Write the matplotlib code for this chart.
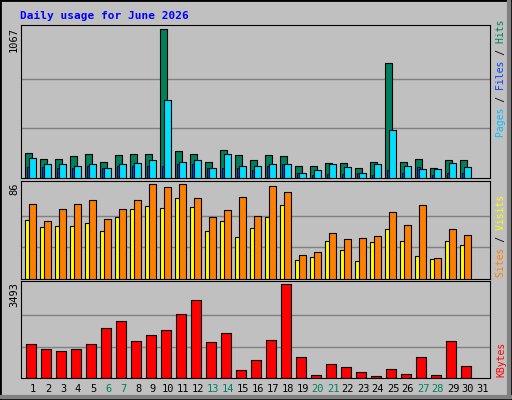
import matplotlib
matplotlib.use("Agg")
import matplotlib.pyplot as plt
import numpy as np

days = list(range(1, 32))
weekend = [6, 7, 13, 14, 20, 21, 27, 28]
hits = [183,140,133,155,169,118,162,169,169,1067,191,169,118,198,162,126,162,155,89,89,111,111,75,118,828,118,133,75,126,126]
files = [147,104,97,89,104,75,104,111,126,560,118,126,75,169,89,89,97,97,39,60,97,82,39,97,343,89,68,68,111,82]
pages = [77,77,70,70,89,75,89,89,89,89,104,104,70,75,70,60,89,104,39,25,32,32,39,25,60,39,82,18,39,39]
visits = [68,52,63,68,71,54,63,71,86,83,86,73,56,62,74,57,84,79,22,24,42,36,37,39,61,49,67,19,45,40]
sites = [53,47,48,48,51,43,56,63,66,64,73,65,43,52,38,46,56,67,17,20,34,26,16,33,45,34,21,18,34,31]
kbytes = [1267,1075,998,1075,1267,1842,2111,1382,1612,1766,2380,2879,1343,1651,307,653,1420,3493,768,115,537,422,230,77,345,154,768,115,1382,461]

W, H = 512, 400
fig = plt.figure(figsize=(5.12, 4.0), dpi=100, facecolor="#c0c0c0")
mono = "DejaVu Sans Mono"

def ax_px(x0, y0, x1, y1):
    return fig.add_axes([x0 / W, 1 - y1 / H, (x1 - x0) / W, (y1 - y0) / H])

x = np.arange(1, 31)
u = 1 / 15
xlim = (1 - 4 * u, 1 - 4 * u + 469 * u)

def style(ax, top):
    ax.set_facecolor("#c0c0c0")
    ax.set_xlim(*xlim)
    ax.set_ylim(0, top * 1.03)
    ax.set_xticks([]); ax.set_yticks([])
    for y in (top / 3, 2 * top / 3):
        ax.axhline(y, color="#808080", lw=1, zorder=0)
    for s in ax.spines.values():
        s.set_color("black")

a1 = ax_px(21, 25, 490, 178)
style(a1, max(hits))
a1.bar(x, hits, width=7 * u, align="edge", color="#00805c", edgecolor="black", lw=0.8)
a1.bar(x + 4 * u, files, width=7 * u, align="edge", color="#00e0ff", edgecolor="black", lw=0.8, zorder=3)
a1.bar(x + 2 * u, pages, width=2.5 * u, align="edge", color="#0040ff", edgecolor="black", lw=0.6, zorder=2)

a2 = ax_px(21, 181, 490, 279)
style(a2, max(visits))
a2.bar(x, sites, width=5 * u, align="edge", color="#ffff00", edgecolor="black", lw=0.8)
a2.bar(x + 4 * u, visits, width=7 * u, align="edge", color="#ff8000", edgecolor="black", lw=0.8, zorder=3)

a3 = ax_px(21, 281, 490, 378)
style(a3, max(kbytes))
a3.bar(x + 1 * u, kbytes, width=10 * u, align="edge", color="#ff0000", edgecolor="black", lw=0.8)

# x labels
for d in days:
    px = 21 + (d - xlim[0]) / u * 1 + 8
    fig.text(px / W, 1 - 389 / H, str(d), ha="center", va="center", family=mono, fontsize=7.5,
             color="#00805c" if d in weekend else "black")

fig.text(20 / W, 1 - 16 / H, "Daily usage for June 2026", color="#0000ff", family=mono,
         fontsize=8, fontweight="bold", va="center", ha="left")

for yv, ytop in ((max(hits), 27), (max(visits), 182), (max(kbytes), 282)):
    fig.text(14 / W, 1 - ytop / H, str(yv), rotation=90, ha="center", va="top", family=mono, fontsize=7.5)

def side(parts, ybot):
    full = "".join(p for p, c in parts)
    pos = 0
    for p, c in parts:
        s = " " * pos + p + " " * (len(full) - pos - len(p))
        fig.text(501 / W, 1 - ybot / H, s, rotation=90, ha="center", va="bottom", family=mono,
                 fontsize=7, color=c)
        pos += len(p)

side([("Pages", "#00c0ff"), (" / ", "black"), ("Files", "#0040ff"), (" / ", "black"), ("Hits", "#00805c")], 137)
side([("Sites", "#ff8000"), (" / ", "black"), ("Visits", "#ffff00")], 277)
side([("KBytes", "#ff0000")], 377)

# frame
fig.add_artist(plt.Rectangle((0, 0), 1, 1, transform=fig.transFigure, fill=False, edgecolor="black", lw=2))
fig.add_artist(plt.Line2D([2 / W, 1 - 2 / W], [3 / H, 3 / H], transform=fig.transFigure, color="#808080", lw=3))
fig.add_artist(plt.Line2D([1 - 3 / W, 1 - 3 / W], [3 / H, 1 - 2 / H], transform=fig.transFigure, color="#808080", lw=3))

fig.savefig("out.png", dpi=100, facecolor="#c0c0c0")
